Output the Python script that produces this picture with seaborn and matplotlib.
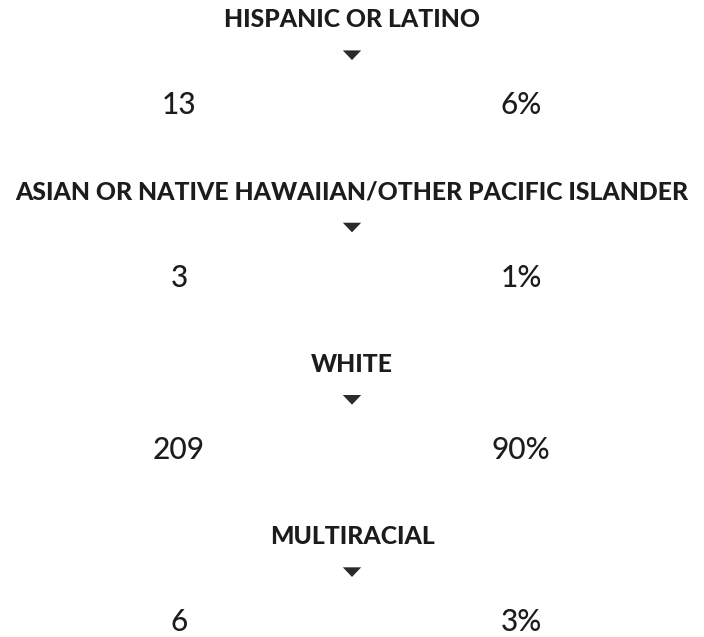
import matplotlib
matplotlib.use("Agg")
import matplotlib.pyplot as plt
import seaborn as sns
import pandas as pd

categories = ["HISPANIC OR LATINO",
              "ASIAN OR NATIVE HAWAIIAN/OTHER PACIFIC ISLANDER",
              "WHITE",
              "MULTIRACIAL"]
counts = [13, 3, 209, 6]
percents = [6, 1, 90, 3]

sns.set_theme(style="white")
plt.rcParams['font.family'] = ['Lato', 'DejaVu Sans']

W, H = 704, 637
fig = plt.figure(figsize=(W / 100, H / 100), dpi=100)
ax = fig.add_axes([0, 0, 1, 1])
ax.set_xlim(0, W)
ax.set_ylim(H, 0)
ax.axis("off")

# layout (pixel rows)
row0, row_step = 19.5, 172.3
cx, left_x, right_x = 352, 179, 521

df = pd.DataFrame({"category": categories, "count": counts, "pct": percents})
df["head"] = row0 + df.index * row_step
df["tri"] = df["head"] + 35.5
df["num"] = df["head"] + 86
df["x"] = cx

tri_marker = [(-1, 0.5), (1, 0.5), (0, -0.55), (-1, 0.5)]
sns.scatterplot(data=df, x="x", y="tri", marker=tri_marker, s=175,
                color="#2a2a2a", edgecolor="none", ax=ax, legend=False)

txt = "#1c1c1c"
for _, row in df.iterrows():
    ax.text(cx, row["head"], row["category"], ha="center", va="center",
            fontsize=17.8, fontweight="black", color=txt)
    ax.text(left_x, row["num"], f"{row['count']}", ha="center", va="center",
            fontsize=21.5, fontweight="medium", color=txt)
    ax.text(right_x, row["num"], f"{row['pct']}%", ha="center", va="center",
            fontsize=21.5, fontweight="medium", color=txt)

fig.savefig("out.png", dpi=100)
